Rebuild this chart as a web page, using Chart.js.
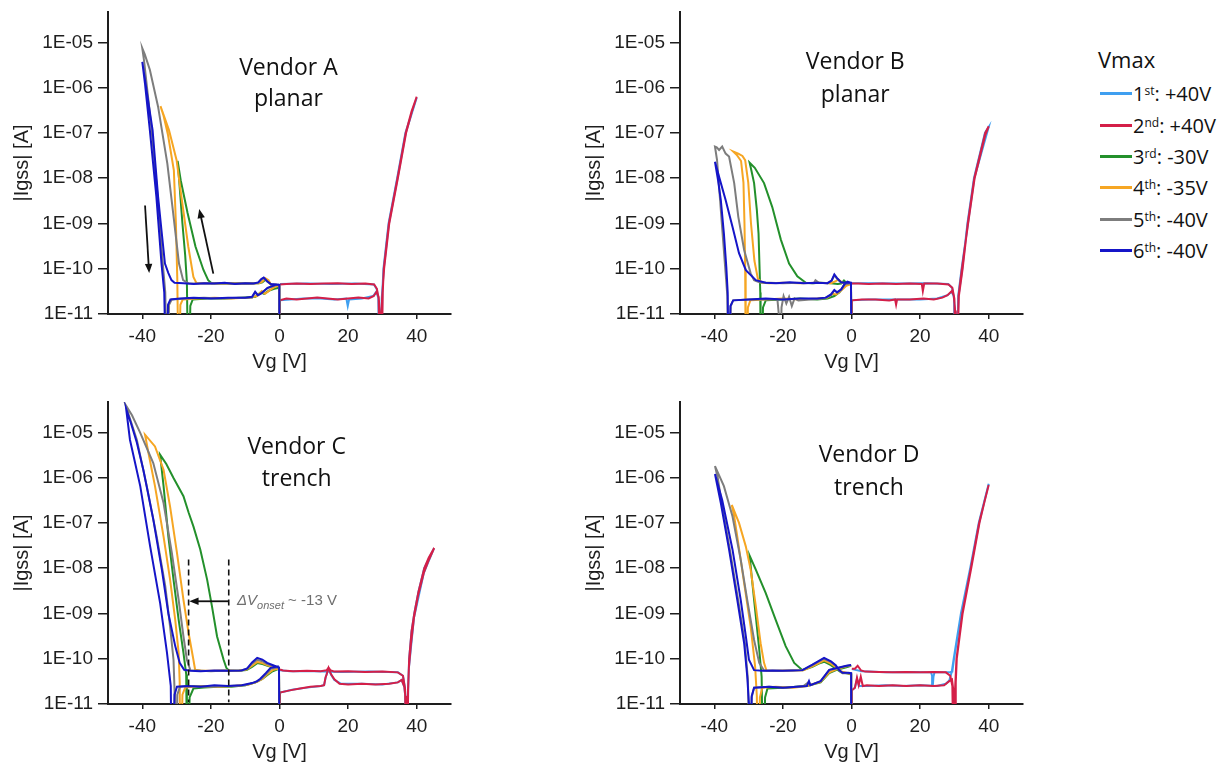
<!DOCTYPE html>
<html>
<head>
<meta charset="utf-8">
<title>Igss hysteresis by vendor</title>
<script src="https://cdn.jsdelivr.net/npm/chart.js@4.4.1/dist/chart.umd.min.js"></script>
<style>
  body { margin: 0; background: #fff; }
  #wrap { position: relative; width: 1232px; height: 765px; overflow: hidden; }
  .panel { position: absolute; width: 460px; height: 380px; }
  #legend { position: absolute; left: 1088px; top: 40px; font-family: "Open Sans", sans-serif; color: #111; }
  #legend .head { font-size: 22px; margin-left: 10px; line-height: 38px; }
  #legend .row { display: flex; align-items: center; height: 31.4px; font-size: 20px; }
  #legend .swatch { display: inline-block; width: 32px; height: 3px; margin-left: 12px; margin-right: 1px; }
  #legend sup { font-size: 12px; position: relative; top: -3px; }
</style>
</head>
<body>
<div id="wrap">
  <div class="panel" style="left:0;top:0"><canvas id="chartA" width="460" height="380"></canvas></div>
  <div class="panel" style="left:572px;top:0"><canvas id="chartB" width="460" height="380"></canvas></div>
  <div class="panel" style="left:0;top:390px"><canvas id="chartC" width="460" height="380"></canvas></div>
  <div class="panel" style="left:572px;top:390px"><canvas id="chartD" width="460" height="380"></canvas></div>
  <div id="legend">
    <div class="head">Vmax</div>
    <div class="row"><span class="swatch" style="background:#3f9ff0"></span>1<sup>st</sup>: +40V</div>
    <div class="row"><span class="swatch" style="background:#d41f48"></span>2<sup>nd</sup>: +40V</div>
    <div class="row"><span class="swatch" style="background:#23902b"></span>3<sup>rd</sup>: -30V</div>
    <div class="row"><span class="swatch" style="background:#f6a623"></span>4<sup>th</sup>: -35V</div>
    <div class="row"><span class="swatch" style="background:#7d7d7d"></span>5<sup>th</sup>: -40V</div>
    <div class="row"><span class="swatch" style="background:#1515c8"></span>6<sup>th</sup>: -40V</div>
  </div>
</div>
<script>
// sweep order and colours, shared by all four panels
const sweepNames = ['1st: +40V', '2nd: +40V', '3rd: -30V', '4th: -35V', '5th: -40V', '6th: -40V'];
const sweepColors = ['#3f9ff0', '#d41f48', '#23902b', '#f6a623', '#7d7d7d', '#1515c8'];

const xTicks = [-40, -20, 0, 20, 40];
const yTicks = [1e-11, 1e-10, 1e-9, 1e-8, 1e-7, 1e-6, 1e-5];

// each sweep is a list of [Vg, |Igss|] points in measurement order (out and back)

// Vendor A, planar
const aLightBlue = [[0,1e-12],[0.1,2e-11],[3,2.1e-11],[7,2.2e-11],[12,2.2e-11],[16,2.1e-11],[19.5,2.2e-11],[19.9,1.5e-11],[20.3,2.1e-11],[24,2.2e-11],[27.3,2.5e-11],[28.2,3.1e-11],[28.8,2.3e-11],[29.2,1e-11],[29.4,1e-12],[29.7,1e-12],[30,3.2e-11],[30.3,1e-10],[31.8,1e-9],[34.3,1e-8],[36.7,1e-7],[40,6e-7],
  [36.8,1e-7],[34.4,1e-8],[31.9,1e-9],[30.4,1e-10],[29.8,2.2e-11],[29.5,1e-12],[29.1,1e-12],[28.8,2.3e-11],[28.3,3.6e-11],[27.5,4.5e-11],[22,4.7e-11],[15,4.6e-11],[8,4.7e-11],[0.1,4.6e-11]];
const aRed = [[0,1e-12],[0.1,2e-11],[2,2.2e-11],[5,2.1e-11],[8,2.2e-11],[11,2.3e-11],[14,2.2e-11],[17,2.1e-11],[20,2.2e-11],[23,2.3e-11],[26,2.2e-11],[27.5,2.5e-11],[28.3,3.1e-11],[28.9,2.4e-11],[29.3,1e-11],[29.5,1e-12],[29.8,1e-12],[30.1,3e-11],[30.4,1e-10],[31.9,1e-9],[34.4,1e-8],[36.8,1e-7],[38.5,3e-7],[40,6.3e-7],
  [38.5,2.8e-7],[36.9,1e-7],[34.5,1e-8],[32,1e-9],[30.5,1e-10],[29.9,2.2e-11],[29.6,1e-12],[29.2,1e-12],[28.9,2.2e-11],[28.4,3.6e-11],[27.6,4.5e-11],[25,4.7e-11],[21,4.6e-11],[17,4.8e-11],[13,4.7e-11],[9,4.6e-11],[5,4.7e-11],[2,4.6e-11],[0.1,4.5e-11]];
const aGreen = [[0,1e-12],[-0.05,4.1e-11],[-1,4.3e-11],[-2,4.1e-11],[-3,5e-11],[-4,5.8e-11],[-5,5e-11],[-6,4.8e-11],[-10,4.7e-11],[-14,4.8e-11],[-17,4.7e-11],[-19.8,4.8e-11],[-20.8,5.6e-11],[-22.2,9.5e-11],[-24.5,3.1e-10],[-26.8,1.7e-9],[-28.8,9e-9],[-29.7,2.4e-8],
  [-29.2,8e-9],[-28.3,1e-9],[-27.5,2e-10],[-27,5e-11],[-26.7,1e-12],[-26.3,1e-12],[-26,1.5e-11],[-25.3,2.1e-11],[-21,2.2e-11],[-16,2.2e-11],[-11,2.3e-11],[-7,2.4e-11],[-5.5,3e-11],[-4.5,2.8e-11],[-3,3.3e-11],[-1.5,3.6e-11],[-0.1,3.8e-11]];
const aOrange = [[0,1e-12],[-0.05,4.2e-11],[-1,4.4e-11],[-2.3,4.2e-11],[-3.2,5.6e-11],[-4.2,6.2e-11],[-5,5.2e-11],[-6,4.8e-11],[-9,4.7e-11],[-13,4.8e-11],[-17,4.7e-11],[-21,4.8e-11],[-24.2,4.8e-11],[-25.1,6.6e-11],[-26.6,3.1e-10],[-28.6,3.9e-9],[-30,2.5e-8],[-32.2,1.15e-7],[-34.7,3.9e-7],
  [-33.8,2.4e-7],[-32.5,9e-8],[-30.8,1.5e-8],[-30.2,1e-9],[-29.8,6e-11],[-29.5,1e-12],[-29.2,1e-12],[-28.9,1.6e-11],[-28.2,2.1e-11],[-24,2.2e-11],[-19,2.3e-11],[-14,2.2e-11],[-9,2.3e-11],[-6.5,2.5e-11],[-5.2,3.2e-11],[-4.2,2.8e-11],[-2.5,3.5e-11],[-1,4.1e-11],[-0.1,4.2e-11]];
const aGray = [[0,1e-12],[-0.05,4.3e-11],[-1,4.5e-11],[-2.5,4.5e-11],[-3.6,5.2e-11],[-4.6,6.2e-11],[-5.3,5.8e-11],[-6.2,4.9e-11],[-8,4.7e-11],[-12,4.8e-11],[-16,4.7e-11],[-20,4.8e-11],[-24,4.7e-11],[-26.6,4.8e-11],[-28.1,5.6e-11],[-29.3,1.3e-10],[-31,1.7e-9],[-32.7,2.1e-8],[-35.4,3.8e-7],[-37.8,2.5e-6],[-39.3,5.5e-6],[-40,7.4e-6],
  [-39.5,4e-6],[-38.3,6e-7],[-37.3,1.2e-7],[-35.6,4.5e-9],[-34.1,1.5e-10],[-33.3,3e-11],[-32.9,1e-12],[-32.5,1e-12],[-32.2,1.6e-11],[-31.4,2.1e-11],[-27,2.2e-11],[-22,2.3e-11],[-17,2.2e-11],[-12,2.3e-11],[-8,2.3e-11],[-7.1,3e-11],[-6.3,2.6e-11],[-5.4,2.9e-11],[-3.5,3.7e-11],[-1.2,4.3e-11],[-0.1,4.4e-11]];
const aBlue = [[0,1e-12],[-0.05,4.4e-11],[-1,4.5e-11],[-2.5,4.6e-11],[-3.6,5.3e-11],[-4.6,6.4e-11],[-5.3,5.9e-11],[-6.2,5e-11],[-7.5,4.7e-11],[-10,4.8e-11],[-13,4.6e-11],[-16,4.9e-11],[-19,4.7e-11],[-22,4.8e-11],[-25,4.6e-11],[-28,4.8e-11],[-30.6,4.9e-11],[-31.5,5.6e-11],[-32.4,8e-11],[-33.4,1.3e-10],[-34.4,7e-10],[-35.4,3.9e-9],[-37,1.15e-7],[-38.5,6.5e-7],[-40,3.7e-6],
  [-39.2,1.2e-6],[-37.8,1.15e-7],[-35.9,3.9e-9],[-34.4,1.3e-10],[-33.6,3e-11],[-33.2,1e-12],[-32.8,1e-12],[-32.5,1.6e-11],[-31.8,2.1e-11],[-29,2.2e-11],[-25,2.3e-11],[-20,2.2e-11],[-15,2.3e-11],[-10,2.3e-11],[-8,2.4e-11],[-7.1,3.1e-11],[-6.3,2.6e-11],[-5.4,2.8e-11],[-3.5,3.8e-11],[-1.2,4.4e-11],[-0.1,4.5e-11]];

// Vendor B, planar
const bLightBlue = [[0,1e-12],[0.1,2e-11],[5,2.1e-11],[10,2.1e-11],[15,2.1e-11],[20,2.1e-11],[25,2.2e-11],[28,2.6e-11],[29.2,3.1e-11],[29.8,2.5e-11],[30.2,1.1e-11],[30.4,1e-12],[30.7,1e-12],[31.2,2.5e-11],[32.3,1e-10],[33.8,1e-9],[35.7,1e-8],[38.9,1e-7],[40,1.35e-7],
  [35.8,1e-8],[32.1,1e-10],[31.1,2.5e-11],[30.8,1e-12],[30.2,1e-12],[29.9,2.2e-11],[29.3,3.8e-11],[28.2,4.6e-11],[22,4.8e-11],[14,4.7e-11],[6,4.8e-11],[0.1,4.8e-11]];
const bRed = [[0,1e-12],[0.1,2e-11],[3,2.1e-11],[7,2.1e-11],[11,2e-11],[12.7,2.1e-11],[13,1.6e-11],[13.3,2.1e-11],[17,2.1e-11],[21,2.2e-11],[24,2.1e-11],[26.5,2.3e-11],[28,2.6e-11],[29.2,3.2e-11],[29.8,2.6e-11],[30.2,1.2e-11],[30.4,1e-12],[30.8,1e-12],[31.3,2.5e-11],[32.4,1e-10],[33.9,1e-9],[35.8,1e-8],[39,1e-7],[40,1.4e-7],
  [39,9e-8],[35.9,1e-8],[34,1e-9],[32.2,1e-10],[31.2,2.5e-11],[30.9,1e-12],[30.3,1e-12],[30,2.2e-11],[29.4,3.8e-11],[28.3,4.5e-11],[25,4.7e-11],[21.2,4.7e-11],[20.8,3.2e-11],[20.5,4.6e-11],[17,4.7e-11],[13,4.6e-11],[9,4.7e-11],[5,4.6e-11],[2,4.7e-11],[0.1,4.7e-11]];
const bGreen = [[0,1e-12],[-0.15,4.6e-11],[-1.2,4.6e-11],[-2.2,5.5e-11],[-3,4.7e-11],[-4,4.6e-11],[-6,4.8e-11],[-9,4.9e-11],[-11.5,4.8e-11],[-13.3,4.9e-11],[-15.8,6.8e-11],[-18.2,1.3e-10],[-20.6,4.4e-10],[-23.1,2.3e-9],[-25.5,7.8e-9],[-28.2,1.7e-8],[-29.7,2.2e-8],
  [-29.2,1.5e-8],[-28.4,7.8e-9],[-27.6,2e-9],[-27.1,6e-10],[-26.8,1e-10],[-26.6,3e-11],[-26.5,1e-12],[-26.1,1e-12],[-25.8,1.4e-11],[-25,2e-11],[-20,2.1e-11],[-15,2.2e-11],[-10,2.1e-11],[-7,2.2e-11],[-5,2.5e-11],[-3.5,3e-11],[-2,4.5e-11],[-0.2,4.6e-11]];
const bOrange = [[0,1e-12],[-0.15,4.7e-11],[-1.5,4.7e-11],[-2.8,5e-11],[-3.8,5.8e-11],[-4.6,5.3e-11],[-6,4.8e-11],[-10,4.9e-11],[-15,4.8e-11],[-20,4.9e-11],[-24,4.8e-11],[-26,4.9e-11],[-27.3,6e-11],[-28.3,1.5e-10],[-29.3,1e-9],[-30.1,8e-9],[-31,2.5e-8],[-31.8,3.1e-8],[-33,3.5e-8],[-34.5,3.9e-8],
  [-33.5,3.3e-8],[-32.2,2.4e-8],[-31.5,8e-9],[-31.2,1e-9],[-31,1e-10],[-30.9,2e-11],[-30.8,1e-12],[-30.5,1e-12],[-30.2,1.4e-11],[-29.5,2e-11],[-25,2.1e-11],[-20,2.2e-11],[-15,2.1e-11],[-10,2.2e-11],[-7,2.3e-11],[-5.5,2.8e-11],[-4.5,2.7e-11],[-3,3.3e-11],[-1.5,4.2e-11],[-0.2,4.6e-11]];
const bGray = [[0,1e-12],[-0.15,4.8e-11],[-1.5,4.8e-11],[-3,4.9e-11],[-4.2,6e-11],[-5,7.2e-11],[-5.8,5.4e-11],[-7,4.8e-11],[-9.5,4.9e-11],[-10.5,5.6e-11],[-11,4.8e-11],[-15,4.9e-11],[-20,4.8e-11],[-24,4.9e-11],[-26.5,4.9e-11],[-28.4,5.6e-11],[-29.4,7.9e-11],[-31.3,2.6e-10],[-33,1.4e-9],[-34.2,7.8e-9],[-35.7,3e-8],[-36.7,3.5e-8],[-37.7,5e-8],[-38.6,4.2e-8],[-39.3,4.8e-8],[-39.8,5e-8],
  [-39.2,2.5e-8],[-38.4,4e-9],[-37.5,5e-10],[-36.7,8e-11],[-36.2,2.5e-11],[-35.9,1e-12],[-35.5,1e-12],[-35.2,1.5e-11],[-34.5,2e-11],[-30,2.1e-11],[-25,2.1e-11],[-21.6,2.1e-11],[-21.2,1e-11],[-21,1e-12],[-20.7,1e-12],[-20.4,1.4e-11],[-19.8,2.5e-11],[-19,1.7e-11],[-18.2,2.4e-11],[-17.4,1.5e-11],[-16.6,2.2e-11],[-15.5,2e-11],[-12,2.1e-11],[-8,2.2e-11],[-6,2.6e-11],[-5,3.3e-11],[-4.2,3e-11],[-3,3.4e-11],[-2,4.5e-11],[-0.2,4.8e-11]];
const bBlue = [[0,1e-12],[-0.15,4.9e-11],[-1.5,4.9e-11],[-3,5e-11],[-4.2,6.2e-11],[-5,7.5e-11],[-5.8,5.5e-11],[-7,4.8e-11],[-10,4.9e-11],[-14,4.8e-11],[-18,5e-11],[-22,4.8e-11],[-25,4.9e-11],[-27.9,5.6e-11],[-30.8,9.3e-11],[-32.8,2.2e-10],[-34.7,8.5e-10],[-36.7,3.3e-9],[-38.6,1.07e-8],[-39.8,2.3e-8],
  [-38.9,9e-9],[-38.1,3.3e-9],[-37.2,6e-10],[-36.5,1.1e-10],[-36.1,3e-11],[-35.9,1e-12],[-35.6,1e-12],[-35.3,1.5e-11],[-34.5,2e-11],[-30,2.1e-11],[-25,2.2e-11],[-20,2.1e-11],[-15,2.2e-11],[-10,2.2e-11],[-7.5,2.3e-11],[-6,2.7e-11],[-5,3.4e-11],[-4.2,3e-11],[-3,3.5e-11],[-2,4.6e-11],[-1.2,5.2e-11],[-0.2,4.9e-11]];

// Vendor C, trench
const cLightBlue = [[0,1e-12],[0.15,1.8e-11],[4,2.1e-11],[8,2.3e-11],[12,2.5e-11],[13,2.6e-11],[13.5,4e-11],[14.3,6e-11],[15,4.5e-11],[16,3.4e-11],[18,2.8e-11],[24,2.8e-11],[30,2.7e-11],[34.5,3e-11],[35.6,3.4e-11],[36.4,2.4e-11],[36.8,1.2e-11],[37,1e-12],[37.3,1e-12],[37.5,2e-11],[37.8,1e-10],[38.5,4e-10],[39.3,1e-9],[40.5,3e-9],[42.2,1e-8],[45,2.7e-8],
  [42.1,8e-9],[39.2,8e-10],[37.7,6e-11],[37.4,1.5e-11],[37.2,1e-12],[36.9,1e-12],[36.6,2.2e-11],[36,4.2e-11],[34.5,5e-11],[26,5.2e-11],[18,5.1e-11],[10,5.3e-11],[3,5.3e-11],[0.15,5.6e-11]];
const cRed = [[0,1e-12],[0.15,1.8e-11],[3,2e-11],[6,2.2e-11],[9,2.4e-11],[12,2.5e-11],[13,2.6e-11],[13.4,3.8e-11],[13.7,4.4e-11],[14.3,6.3e-11],[15,4.6e-11],[16,3.5e-11],[17.5,2.8e-11],[20,2.7e-11],[24,2.8e-11],[28,2.7e-11],[32,2.8e-11],[34.5,3e-11],[35.6,3.4e-11],[36.4,2.4e-11],[36.8,1.2e-11],[37,1e-12],[37.3,1e-12],[37.5,2e-11],[37.8,1e-10],[38.5,4e-10],[39.3,1e-9],[40.5,3e-9],[42.2,1e-8],[43.5,1.7e-8],[45.1,2.8e-8],
  [43.5,1.5e-8],[42.1,8e-9],[40.4,2.5e-9],[39.2,8e-10],[38.3,2e-10],[37.7,6e-11],[37.4,1.5e-11],[37.2,1e-12],[36.9,1e-12],[36.6,2.2e-11],[36,4.2e-11],[34.5,5e-11],[30,5.2e-11],[25,5.1e-11],[20,5.3e-11],[16,5.2e-11],[14.8,5.6e-11],[14.3,6.4e-11],[13.8,5.6e-11],[12,5.3e-11],[8,5.4e-11],[4,5.3e-11],[1,5.5e-11],[0.15,5.8e-11]];
const cGreen = [[0,1e-12],[-0.15,6e-11],[-1.5,6.3e-11],[-3.5,7e-11],[-5,7.6e-11],[-6.5,8e-11],[-8,6.6e-11],[-9.6,5.6e-11],[-12,5.4e-11],[-14.8,5.5e-11],[-15.5,6.3e-11],[-16.3,9.5e-11],[-18.2,3.1e-10],[-19.7,1.45e-9],[-21.1,5.6e-9],[-23.1,2.6e-8],[-25.1,8.4e-8],[-26.5,1.7e-7],[-28,3.9e-7],[-30.9,9.8e-7],[-33,2e-6],[-34.8,3.2e-6],
  [-33.8,6.5e-7],[-32.4,5e-8],[-30.9,5.6e-9],[-29.4,7.2e-10],[-28,1.35e-10],[-27.2,4.5e-11],[-27,1e-12],[-26.6,1e-12],[-26.2,1.4e-11],[-25.1,2.2e-11],[-22,2.3e-11],[-18,2.4e-11],[-14,2.4e-11],[-10,2.6e-11],[-7,3e-11],[-5,3.6e-11],[-3.5,4.4e-11],[-2,5.3e-11],[-0.2,6e-11]];
const cOrange = [[0,1e-12],[-0.15,6.1e-11],[-1.5,6.5e-11],[-3.5,7.2e-11],[-5,8e-11],[-6.5,8.5e-11],[-8,7e-11],[-9.6,5.8e-11],[-12,5.4e-11],[-16,5.5e-11],[-20,5.4e-11],[-23,5.5e-11],[-24.6,5.7e-11],[-25.1,9.5e-11],[-26.5,3.7e-10],[-28,2e-9],[-29.9,2.2e-8],[-31.9,2.3e-7],[-33.8,1.5e-6],[-36.3,4.9e-6],[-39.2,8.9e-6],
  [-38.2,3.5e-6],[-36.3,6.5e-7],[-33.8,5e-8],[-31.9,5.6e-9],[-30.4,7.2e-10],[-29.4,1.35e-10],[-29.1,3e-11],[-29,1e-12],[-28.6,1e-12],[-28.3,1.6e-11],[-27.5,2.3e-11],[-23,2.5e-11],[-18,2.4e-11],[-13,2.5e-11],[-9,2.7e-11],[-6.5,3.1e-11],[-5,3.6e-11],[-3.5,4.6e-11],[-2,5.6e-11],[-0.2,6.1e-11]];
const cGray = [[0,1e-12],[-0.15,6.2e-11],[-1.5,6.8e-11],[-3.6,7.6e-11],[-5,8.8e-11],[-6.5,9.5e-11],[-8,7.8e-11],[-9.6,5.9e-11],[-12,5.4e-11],[-16,5.5e-11],[-20,5.3e-11],[-24,5.5e-11],[-26,5.6e-11],[-27,9.5e-11],[-28,3.1e-10],[-29.4,2e-9],[-31.4,2.2e-8],[-33.8,2.75e-7],[-36.8,2.1e-6],[-40.6,9.8e-6],[-43,2.4e-5],[-44.9,4.1e-5],
  [-41.6,6.9e-6],[-38.7,6.5e-7],[-35.8,5e-8],[-33.3,4e-9],[-31.9,5.1e-10],[-30.9,9.5e-11],[-30.6,2e-11],[-30.5,1e-12],[-30.1,1e-12],[-29.8,1.6e-11],[-29,2.4e-11],[-25,2.5e-11],[-20,2.4e-11],[-15,2.5e-11],[-10,2.6e-11],[-7,3e-11],[-5.5,3.5e-11],[-4,4.5e-11],[-2.5,6e-11],[-0.2,6.5e-11]];
const cBlue = [[0,1e-12],[-0.15,6.4e-11],[-1.5,7e-11],[-3.6,8.1e-11],[-5,9.6e-11],[-6.5,1.05e-10],[-8,8.3e-11],[-9.4,6.1e-11],[-11,5.5e-11],[-15,5.4e-11],[-19,5.5e-11],[-23,5.3e-11],[-26,5.4e-11],[-27.8,5.7e-11],[-29.1,8.1e-11],[-30.4,1.9e-10],[-32.4,1e-9],[-34.3,9.3e-9],[-36.8,1.2e-7],[-39.7,1.5e-6],[-41.6,6e-6],[-43.3,1.6e-5],[-44.7,3.3e-5],
  [-43.6,6.9e-6],[-40.6,6.5e-7],[-37.7,3e-8],[-34.8,1.7e-9],[-32.8,1.35e-10],[-31.7,2.5e-11],[-31.5,1e-12],[-31,1e-12],[-30.6,1.6e-11],[-29.9,2.4e-11],[-27,2.5e-11],[-23,2.4e-11],[-19,2.6e-11],[-15,2.5e-11],[-11,2.6e-11],[-8,2.9e-11],[-6.5,3.2e-11],[-5.6,3.6e-11],[-4,4.8e-11],[-2.6,6.3e-11],[-0.2,6.8e-11]];

// Vendor D, trench
const dLightBlue = [[0,1e-12],[0.1,2e-11],[1,2.3e-11],[1.6,3.6e-11],[2.2,2.5e-11],[5,2.5e-11],[10,2.6e-11],[15,2.5e-11],[20,2.6e-11],[25,2.5e-11],[27.5,2.8e-11],[28.5,3.3e-11],[29.2,5e-11],[29.8,1e-10],[31.9,1e-9],[34.6,1e-8],[37.1,1e-7],[40,7.3e-7],
  [37.2,1e-7],[34.7,1e-8],[32,1e-9],[29.9,1e-10],[29.4,5.2e-11],[28.5,5e-11],[24.2,5e-11],[23.9,4e-11],[23.7,2.5e-11],[23.5,4.2e-11],[23.2,5e-11],[18,5.1e-11],[10,5e-11],[3,5.3e-11],[0.1,5.9e-11]];
const dRed = [[0,1e-12],[0.1,2e-11],[1,2.3e-11],[1.6,3.8e-11],[2.1,2.6e-11],[2.7,4e-11],[3.3,2.5e-11],[4.5,2.6e-11],[8,2.5e-11],[12,2.6e-11],[16,2.5e-11],[20,2.6e-11],[24,2.5e-11],[27,2.6e-11],[28.5,3.2e-11],[29.3,3.5e-11],[29.7,2e-11],[29.9,1e-12],[30.2,1e-12],[30.4,3e-11],[30.7,1e-10],[32.4,1e-9],[34.9,1e-8],[37.3,1e-7],[38.8,3e-7],[40,6.9e-7],
  [38.7,2.8e-7],[37.2,1e-7],[34.8,1e-8],[32.3,1e-9],[30.6,1e-10],[30.2,2.2e-11],[30,1e-12],[29.7,1e-12],[29.4,2.5e-11],[28.8,4.2e-11],[27.5,5e-11],[24,5.1e-11],[20,5e-11],[16,5.1e-11],[12,5e-11],[8,5.1e-11],[4,5.2e-11],[2.8,5.5e-11],[1.8,7e-11],[1,6e-11],[0.1,6e-11]];
const dGreen = [[0,1e-12],[-0.1,4.5e-11],[-1,4.7e-11],[-3,5e-11],[-4.6,6e-11],[-6,7.2e-11],[-8,8.6e-11],[-9.5,7.8e-11],[-11.4,6.6e-11],[-14.3,5.6e-11],[-16.7,8.1e-11],[-19.2,1.9e-10],[-22.1,7.2e-10],[-25,2.8e-9],[-27.9,9.3e-9],[-29.7,1.9e-8],
  [-28.9,4.7e-9],[-27.9,8.7e-10],[-26.9,1.6e-10],[-26.2,4e-11],[-25.9,1e-12],[-25.5,1e-12],[-25.2,1.4e-11],[-24.5,2.2e-11],[-20,2.3e-11],[-16,2.4e-11],[-13,2.5e-11],[-9,3e-11],[-6.5,4.8e-11],[-4,5.8e-11],[-1.5,6.5e-11],[-0.1,7e-11]];
const dOrange = [[0,1e-12],[-0.1,4.6e-11],[-1,4.8e-11],[-3,5.2e-11],[-4.6,6.5e-11],[-6,7.8e-11],[-8,9.2e-11],[-9.5,8e-11],[-11.4,6.8e-11],[-14,5.6e-11],[-18,5.5e-11],[-22,5.4e-11],[-24.8,5.5e-11],[-25.5,8.1e-11],[-26.5,2.2e-10],[-27.9,1.45e-9],[-29.4,9.3e-9],[-30.8,3e-8],[-32.8,1e-7],[-34.9,2.5e-7],
  [-34.2,1.4e-7],[-33.3,5e-8],[-31.3,4.7e-9],[-29.4,5.1e-10],[-28.1,6.8e-11],[-27.6,1.5e-11],[-27.4,1e-12],[-27,1e-12],[-26.7,1.4e-11],[-26,2.3e-11],[-22,2.4e-11],[-17,2.3e-11],[-13,2.5e-11],[-9,3.1e-11],[-6.5,5e-11],[-4,6e-11],[-1.5,6.8e-11],[-0.1,7.1e-11]];
const dGray = [[0,1e-12],[-0.1,4.7e-11],[-1,4.8e-11],[-2.6,4.8e-11],[-3.6,5.5e-11],[-4.6,7e-11],[-6,8.5e-11],[-8,1e-10],[-9.5,8.7e-11],[-11.4,7.2e-11],[-14.3,5.6e-11],[-18,5.5e-11],[-22,5.4e-11],[-25.5,5.5e-11],[-26.9,8.1e-11],[-28.4,2.6e-10],[-30.4,2e-9],[-32.3,1.55e-8],[-34.7,1.4e-7],[-37.2,6.5e-7],[-39.8,1.8e-6],
  [-39,1e-6],[-37.9,2.9e-7],[-35.4,2.4e-8],[-33,1.9e-9],[-31.1,2.2e-10],[-30.2,3.5e-11],[-29.8,1e-12],[-29.4,1e-12],[-29.1,1.4e-11],[-28.4,2.3e-11],[-24,2.4e-11],[-19,2.3e-11],[-14,2.5e-11],[-12.4,3.1e-11],[-12,2.6e-11],[-9,3.2e-11],[-6.5,5.6e-11],[-3.6,6.3e-11],[-1.5,6.9e-11],[-0.1,7.2e-11]];
const dBlue = [[0,1e-12],[-0.1,4.8e-11],[-1,4.9e-11],[-2.6,4.9e-11],[-3.6,5.6e-11],[-4.6,7.2e-11],[-6,8.8e-11],[-8,1.05e-10],[-9.5,9e-11],[-11.4,7.4e-11],[-14.3,5.6e-11],[-17,5.5e-11],[-20,5.4e-11],[-23,5.5e-11],[-26,5.4e-11],[-28.4,5.6e-11],[-29.9,9.5e-11],[-30.8,3.1e-10],[-32.3,2e-9],[-34.7,2.6e-8],[-37.7,3.2e-7],[-39.8,1.2e-6],
  [-38.1,2.75e-7],[-35.7,2.6e-8],[-33.3,2e-9],[-31.3,2.2e-10],[-30.4,4.1e-11],[-29.9,1e-11],[-29.7,1e-12],[-29.4,1e-12],[-29.1,1.5e-11],[-28.4,2.3e-11],[-24,2.4e-11],[-20,2.3e-11],[-16,2.4e-11],[-13,2.5e-11],[-12.4,3.2e-11],[-12,2.6e-11],[-9,3.2e-11],[-6.5,5.7e-11],[-3.6,6.4e-11],[-1.5,7e-11],[-0.1,7.3e-11]];

const textFont = 'Liberation Sans, Arial, sans-serif';
const inkColor = '#1e1e1e';

// free text, arrows and dashed markers drawn in data coordinates
const notesPlugin = {
  id: 'notes',
  afterDatasetsDraw(chart, args, opts) {
    const { ctx, scales: { x, y } } = chart;
    const px = v => x.getPixelForValue(v);
    const py = v => y.getPixelForValue(v);
    ctx.save();
    (opts.dashes || []).forEach(d => {
      ctx.beginPath();
      ctx.setLineDash([6, 4]);
      ctx.lineWidth = 1.6;
      ctx.strokeStyle = '#111';
      ctx.moveTo(px(d.x), py(d.from));
      ctx.lineTo(px(d.x), py(d.to));
      ctx.stroke();
    });
    ctx.setLineDash([]);
    (opts.arrows || []).forEach(a => {
      const x0 = px(a.from[0]), y0 = py(a.from[1]);
      const x1 = px(a.to[0]), y1 = py(a.to[1]);
      const ang = Math.atan2(y1 - y0, x1 - x0);
      const head = 10;
      ctx.strokeStyle = '#111';
      ctx.fillStyle = '#111';
      ctx.lineWidth = 1.8;
      ctx.beginPath();
      ctx.moveTo(x0, y0);
      ctx.lineTo(x1 - Math.cos(ang) * head * 0.8, y1 - Math.sin(ang) * head * 0.8);
      ctx.stroke();
      ctx.beginPath();
      ctx.moveTo(x1, y1);
      ctx.lineTo(x1 - head * Math.cos(ang - 0.38), y1 - head * Math.sin(ang - 0.38));
      ctx.lineTo(x1 - head * Math.cos(ang + 0.38), y1 - head * Math.sin(ang + 0.38));
      ctx.closePath();
      ctx.fill();
    });
    ctx.textBaseline = 'middle';
    (opts.labels || []).forEach(l => {
      ctx.font = '23px "Open Sans", sans-serif';
      ctx.fillStyle = '#111';
      ctx.textAlign = 'center';
      ctx.fillText(l.text, px(l.x), py(l.y));
    });
    (opts.onset || []).forEach(o => {
      // ΔV_onset ~ -13 V, with an italic subscript
      let cx = px(o.x);
      const cy = py(o.y);
      ctx.fillStyle = '#6e6e6e';
      ctx.textAlign = 'left';
      ctx.font = 'italic 15px ' + textFont;
      ctx.fillText('\u0394V', cx, cy);
      cx += ctx.measureText('\u0394V').width;
      ctx.font = 'italic 11px ' + textFont;
      ctx.fillText('onset', cx, cy + 5);
      cx += ctx.measureText('onset').width;
      ctx.font = '15px ' + textFont;
      ctx.fillText(' ~ ' + o.value, cx, cy);
    });
    ctx.restore();
  }
};

function makePanel(id, sweeps, notes) {
  const datasets = sweeps.map((pts, i) => ({
    label: sweepNames[i],
    data: pts.map(([vg, ig]) => ({ x: vg, y: ig })),
    borderColor: sweepColors[i],
    backgroundColor: sweepColors[i],
    borderWidth: 2,
    pointRadius: 0,
    showLine: true,
    tension: 0,
    order: 6 - i
  }));
  return new Chart(document.getElementById(id), {
    type: 'scatter',
    data: { datasets },
    options: {
      responsive: false,
      animation: false,
      layout: { padding: { top: 12, right: 9, left: 0, bottom: 6 } },
      plugins: { legend: { display: false }, tooltip: { enabled: false }, notes },
      scales: {
        x: {
          type: 'linear', min: -50, max: 50,
          afterBuildTicks: s => { s.ticks = xTicks.map(v => ({ value: v })); },
          afterFit: s => { s.height = 60; },
          border: { display: true, color: inkColor, width: 2 },
          grid: { drawOnChartArea: false, drawTicks: true, tickLength: 5, tickColor: inkColor, lineWidth: 1.5 },
          ticks: { color: inkColor, font: { family: textFont, size: 19 }, padding: 6, autoSkip: false, maxRotation: 0 },
          title: { display: true, text: 'Vg [V]', color: inkColor, font: { family: textFont, size: 20 }, padding: { top: 0, bottom: 0 } }
        },
        y: {
          type: 'logarithmic', min: 1e-11, max: 4.7e-5,
          afterBuildTicks: s => { s.ticks = yTicks.map(v => ({ value: v })); },
          // fixed axis width; labels sit well inside the range, so no extra end padding
          afterFit: s => { s.width = 108; s.paddingTop = 0; s.paddingBottom = 0; },
          border: { display: true, color: inkColor, width: 2 },
          grid: { drawOnChartArea: false, drawTicks: true, tickLength: 10, tickColor: inkColor, lineWidth: 1.5 },
          ticks: {
            color: inkColor, font: { family: textFont, size: 19 }, padding: 5, autoSkip: false,
            callback: v => '1E-' + String(-Math.round(Math.log10(v))).padStart(2, '0')
          },
          title: { display: true, text: '|Igss| [A]', color: inkColor, font: { family: textFont, size: 20 }, padding: { top: 10, bottom: 0 } }
        }
      }
    },
    plugins: [notesPlugin]
  });
}

makePanel('chartA', [aLightBlue, aRed, aGreen, aOrange, aGray, aBlue], {
  labels: [{ text: 'Vendor A', x: 2.6, y: 2.6e-6 }, { text: 'planar', x: 2.6, y: 5.4e-7 }],
  arrows: [
    { from: [-39.2, 2.5e-9], to: [-38.0, 8e-11] },
    { from: [-19.3, 7.8e-11], to: [-23.4, 2.1e-9] }
  ]
});
makePanel('chartB', [bLightBlue, bRed, bGreen, bOrange, bGray, bBlue], {
  labels: [{ text: 'Vendor B', x: 1.1, y: 3.7e-6 }, { text: 'planar', x: 1.1, y: 6.9e-7 }]
});
makePanel('chartC', [cLightBlue, cRed, cGreen, cOrange, cGray, cBlue], {
  labels: [{ text: 'Vendor C', x: 5.0, y: 4.6e-6 }, { text: 'trench', x: 5.0, y: 9.1e-7 }],
  dashes: [{ x: -26.5, from: 1.55e-8, to: 1.1e-11 }, { x: -14.8, from: 1.55e-8, to: 1.1e-11 }],
  arrows: [{ from: [-14.8, 1.86e-9], to: [-26.3, 1.86e-9] }],
  onset: [{ x: -12.4, y: 1.86e-9, value: '-13 V' }]
});
makePanel('chartD', [dLightBlue, dRed, dGreen, dOrange, dGray, dBlue], {
  labels: [{ text: 'Vendor D', x: 5.1, y: 3.1e-6 }, { text: 'trench', x: 5.1, y: 5.8e-7 }]
});
</script>
</body>
</html>
